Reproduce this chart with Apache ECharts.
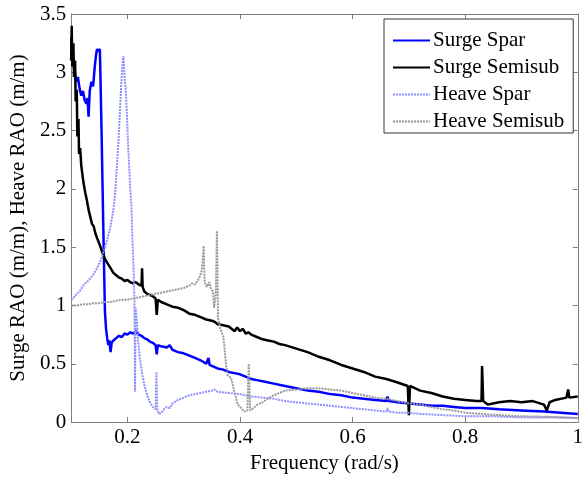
<!DOCTYPE html>
<html>
<head>
<meta charset="utf-8">
<script src="https://cdn.jsdelivr.net/npm/echarts@6/dist/echarts.min.js"></script>
<style>
html,body{margin:0;padding:0;background:#fff;}
#chart{width:586px;height:479px;}
</style>
</head>
<body>
<div id="chart"></div>
<script>
// ---- data ----
var xTicks = [0.2, 0.4, 0.6, 0.8, 1];
var yTicks = [0, 0.5, 1, 1.5, 2, 2.5, 3, 3.5];
var seriesNames = ['Surge Spar', 'Surge Semisub', 'Heave Spar', 'Heave Semisub'];

var surgeSparFreq = [0.100,0.103,0.106,0.109,0.112,0.115,0.118,0.121,0.124,0.127,0.129,0.131,0.133,0.136,0.139,0.142,0.144,0.146,0.148,0.151,0.154,0.157,0.160,0.162,0.164,0.166,0.168,0.170,0.172,0.175,0.180,0.185,0.190,0.195,0.200,0.205,0.210,0.215,0.220,0.225,0.230,0.235,0.240,0.245,0.250,0.252,0.254,0.260,0.270,0.275,0.280,0.290,0.300,0.310,0.320,0.330,0.340,0.344,0.346,0.360,0.370,0.380,0.390,0.400,0.410,0.420,0.430,0.440,0.460,0.480,0.500,0.520,0.540,0.560,0.580,0.600,0.620,0.640,0.660,0.662,0.664,0.680,0.700,0.720,0.740,0.760,0.780,0.800,0.830,0.860,0.900,0.940,0.970,1.000];
var surgeSparRAO = [3.30,3.10,3.02,2.92,2.96,2.86,2.80,2.84,2.76,2.73,2.78,2.62,2.84,2.92,2.88,3.05,3.14,3.20,3.18,3.20,2.50,1.70,0.95,0.80,0.72,0.66,0.70,0.60,0.68,0.70,0.72,0.74,0.73,0.76,0.75,0.77,0.76,0.78,0.75,0.74,0.72,0.71,0.69,0.68,0.66,0.58,0.66,0.65,0.64,0.66,0.62,0.60,0.59,0.57,0.55,0.53,0.50,0.55,0.49,0.46,0.45,0.43,0.42,0.41,0.39,0.37,0.36,0.35,0.33,0.31,0.29,0.27,0.26,0.24,0.23,0.21,0.20,0.19,0.18,0.22,0.18,0.17,0.16,0.15,0.14,0.14,0.13,0.12,0.12,0.11,0.10,0.09,0.08,0.07];

var surgeSemiFreq = [0.100,0.101,0.102,0.104,0.105,0.107,0.108,0.110,0.111,0.113,0.114,0.116,0.118,0.120,0.122,0.125,0.128,0.131,0.134,0.137,0.140,0.143,0.146,0.150,0.155,0.160,0.165,0.170,0.175,0.180,0.185,0.190,0.195,0.200,0.205,0.210,0.215,0.220,0.225,0.226,0.227,0.230,0.235,0.240,0.245,0.250,0.252,0.254,0.260,0.270,0.280,0.290,0.300,0.310,0.320,0.330,0.340,0.350,0.355,0.360,0.370,0.380,0.385,0.390,0.395,0.400,0.405,0.410,0.415,0.420,0.430,0.440,0.450,0.460,0.470,0.480,0.500,0.520,0.540,0.560,0.580,0.600,0.620,0.640,0.660,0.680,0.698,0.700,0.702,0.720,0.740,0.760,0.780,0.800,0.820,0.829,0.830,0.832,0.840,0.860,0.880,0.900,0.920,0.940,0.945,0.950,0.960,0.980,0.983,0.985,1.000];
var surgeSemiRAO = [3.10,3.40,3.05,3.25,2.96,3.10,2.75,2.85,2.45,2.60,2.30,2.35,2.20,2.20,2.05,1.97,1.90,1.82,1.76,1.70,1.68,1.62,1.58,1.53,1.46,1.40,1.36,1.32,1.28,1.26,1.24,1.23,1.21,1.22,1.20,1.19,1.20,1.18,1.17,1.32,1.16,1.12,1.10,1.09,1.08,1.06,0.92,1.05,1.03,1.01,0.99,0.98,0.96,0.93,0.92,0.90,0.88,0.87,0.86,0.84,0.83,0.82,0.80,0.78,0.81,0.78,0.80,0.76,0.77,0.75,0.73,0.71,0.70,0.69,0.67,0.66,0.63,0.60,0.56,0.53,0.49,0.46,0.43,0.39,0.37,0.34,0.31,0.06,0.31,0.27,0.25,0.22,0.20,0.19,0.18,0.18,0.48,0.18,0.15,0.17,0.18,0.17,0.18,0.15,0.10,0.17,0.19,0.21,0.28,0.21,0.22];

var heaveSparFreq = [0.100,0.105,0.110,0.115,0.120,0.125,0.130,0.135,0.140,0.145,0.150,0.155,0.160,0.165,0.170,0.175,0.178,0.180,0.182,0.184,0.186,0.188,0.190,0.192,0.193,0.195,0.197,0.199,0.201,0.203,0.205,0.207,0.209,0.211,0.2125,0.2135,0.2145,0.217,0.219,0.222,0.226,0.230,0.235,0.240,0.245,0.250,0.2515,0.253,0.256,0.260,0.265,0.270,0.275,0.280,0.290,0.300,0.310,0.320,0.330,0.340,0.350,0.355,0.360,0.380,0.400,0.420,0.440,0.460,0.480,0.500,0.520,0.540,0.560,0.580,0.600,0.620,0.640,0.660,0.662,0.664,0.680,0.700,0.720,0.760,0.800,0.850,0.900,0.950,1.000];
var heaveSparRAO = [1.05,1.07,1.10,1.12,1.16,1.19,1.21,1.24,1.27,1.31,1.36,1.42,1.50,1.58,1.68,1.82,1.95,2.10,2.25,2.40,2.60,2.80,2.98,3.12,3.14,2.95,2.85,2.65,2.40,2.20,2.00,1.85,1.55,1.30,1.05,0.26,0.98,0.85,0.70,0.55,0.42,0.32,0.23,0.17,0.13,0.11,0.43,0.10,0.07,0.08,0.11,0.13,0.12,0.16,0.19,0.21,0.23,0.24,0.25,0.26,0.27,0.28,0.26,0.25,0.24,0.22,0.21,0.20,0.18,0.17,0.16,0.15,0.14,0.13,0.12,0.11,0.10,0.09,0.12,0.09,0.08,0.08,0.07,0.06,0.05,0.05,0.04,0.04,0.035];

var heaveSemiFreq = [0.100,0.110,0.120,0.130,0.140,0.150,0.160,0.170,0.180,0.190,0.200,0.210,0.220,0.230,0.240,0.250,0.260,0.270,0.280,0.290,0.300,0.310,0.315,0.320,0.327,0.332,0.3355,0.337,0.341,0.345,0.349,0.352,0.354,0.357,0.359,0.361,0.365,0.370,0.372,0.375,0.378,0.384,0.390,0.396,0.402,0.408,0.413,0.4155,0.418,0.424,0.431,0.440,0.449,0.460,0.480,0.500,0.520,0.540,0.560,0.580,0.600,0.620,0.640,0.660,0.680,0.700,0.720,0.740,0.760,0.780,0.800,0.830,0.860,0.900,0.950,1.000];
var heaveSemiRAO = [1.00,1.00,1.01,1.01,1.02,1.02,1.03,1.03,1.04,1.05,1.05,1.06,1.07,1.08,1.09,1.10,1.11,1.12,1.13,1.14,1.15,1.17,1.19,1.18,1.23,1.30,1.51,1.20,1.16,1.20,1.14,1.12,0.98,1.10,1.64,0.89,0.80,0.74,0.66,0.50,0.40,0.38,0.26,0.15,0.12,0.09,0.10,0.50,0.10,0.12,0.15,0.17,0.20,0.23,0.27,0.28,0.29,0.29,0.28,0.27,0.25,0.23,0.21,0.20,0.18,0.16,0.15,0.13,0.11,0.10,0.08,0.07,0.06,0.05,0.045,0.035];

function pairs(xs, ys) { return xs.map(function (x, i) { return [x, ys[i]]; }); }

var FONT = 'Liberation Serif';
var FRAME = '#7f7f7f';

var chart = echarts.init(document.getElementById('chart'), null, { renderer: 'canvas' });
var commonX = {
  type: 'value', min: 0.1, max: 1,
  axisLine: { show: true, onZero: false, lineStyle: { color: FRAME, width: 1 } },
  splitLine: { show: false }
};
var commonY = {
  type: 'value', min: 0, max: 3.5, interval: 0.5,
  axisLine: { show: true, onZero: false, lineStyle: { color: FRAME, width: 1 } },
  splitLine: { show: false }
};
chart.setOption({
  animation: false,
  backgroundColor: '#fff',
  textStyle: { fontFamily: FONT },
  grid: { left: 67, right: 3, top: 14, bottom: 55, containLabel: false },
  xAxis: [
    Object.assign({}, commonX, {
      position: 'bottom',
      name: 'Frequency (rad/s)', nameLocation: 'middle', nameGap: 25,
      nameTextStyle: { color: '#000', fontSize: 21, fontFamily: FONT },
      axisTick: { show: true, inside: true, length: 5, lineStyle: { color: FRAME }, customValues: xTicks },
      axisLabel: { show: true, color: '#000', fontSize: 21, fontFamily: FONT, margin: 5, customValues: xTicks,
        formatter: function (v) { return String(Math.round(v * 10) / 10); } }
    }),
    Object.assign({}, commonX, {
      position: 'top',
      axisTick: { show: true, inside: true, length: 5, lineStyle: { color: FRAME }, customValues: xTicks },
      axisLabel: { show: false }
    })
  ],
  yAxis: [
    Object.assign({}, commonY, {
      position: 'left',
      name: 'Surge RAO (m/m), Heave RAO (m/m)', nameLocation: 'middle', nameGap: 38,
      nameTextStyle: { color: '#000', fontSize: 21, fontFamily: FONT },
      axisTick: { show: true, inside: true, length: 5, lineStyle: { color: FRAME } },
      axisLabel: { show: true, color: '#000', fontSize: 21, fontFamily: FONT, margin: 5,
        formatter: function (v) { return String(Math.round(v * 10) / 10); } }
    }),
    Object.assign({}, commonY, {
      position: 'right',
      axisTick: { show: true, inside: true, length: 5, lineStyle: { color: FRAME } },
      axisLabel: { show: false }
    })
  ],
  legend: {
    orient: 'vertical', left: 384, top: 19,
    padding: [11, 9, 1, 8],
    itemGap: 6, itemWidth: 37, itemHeight: 10,
    backgroundColor: '#fff', borderColor: '#333', borderWidth: 1,
    itemStyle: { opacity: 0 },
    textStyle: { color: '#000', fontSize: 21, fontFamily: FONT, lineHeight: 20, padding: [0, 0, 0, -2] },
    data: seriesNames
  },
  series: [
    { name: seriesNames[0], type: 'line', symbol: 'none', xAxisIndex: 0, yAxisIndex: 0,
      data: pairs(surgeSparFreq, surgeSparRAO), lineStyle: { color: '#0000ff', width: 2.5 }, itemStyle: { color: '#0000ff' } },
    { name: seriesNames[1], type: 'line', symbol: 'none', xAxisIndex: 0, yAxisIndex: 0,
      data: pairs(surgeSemiFreq, surgeSemiRAO), lineStyle: { color: '#000000', width: 2.5 }, itemStyle: { color: '#000000' } },
    { name: seriesNames[2], type: 'line', symbol: 'none', xAxisIndex: 0, yAxisIndex: 0,
      data: pairs(heaveSparFreq, heaveSparRAO), lineStyle: { color: '#8f8fff', width: 2, type: [2, 1] }, itemStyle: { color: '#8f8fff' } },
    { name: seriesNames[3], type: 'line', symbol: 'none', xAxisIndex: 0, yAxisIndex: 0,
      data: pairs(heaveSemiFreq, heaveSemiRAO), lineStyle: { color: '#999999', width: 2, type: [2, 1] }, itemStyle: { color: '#999999' } }
  ]
});
</script>
</body>
</html>
